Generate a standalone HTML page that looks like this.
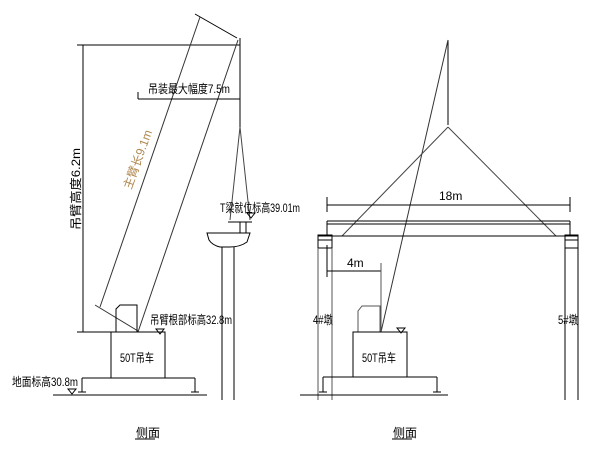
<!DOCTYPE html>
<html><head><meta charset="utf-8"><style>
html,body{margin:0;padding:0;background:#fff;}
svg{display:block;}
text{font-family:"Liberation Sans","Noto Sans CJK SC",sans-serif;font-size:12px;fill:#000;}
</style></head><body>
<svg width="600" height="450" viewBox="0 0 600 450" xmlns="http://www.w3.org/2000/svg">
<g stroke="#000" stroke-width="1" fill="none">
<line x1="77" y1="45" x2="240" y2="45"/>
<line x1="83" y1="45" x2="83" y2="332"/>
<line x1="195" y1="14" x2="237" y2="38"/>
<line x1="240" y1="38" x2="240" y2="127"/>
<line x1="200" y1="17" x2="100" y2="307" stroke="#333"/>
<line x1="238" y1="40" x2="138" y2="332" stroke="#333"/>
<line x1="95" y1="305" x2="138" y2="331" stroke="#333"/>
<line x1="138" y1="92" x2="138" y2="99"/>
<line x1="138" y1="99" x2="240" y2="99"/>
<line x1="240" y1="127" x2="230" y2="220" stroke="#444"/>
<line x1="240" y1="127" x2="250" y2="220" stroke="#444"/>
<line x1="228" y1="222" x2="252" y2="222"/>
<line x1="240" y1="222" x2="240" y2="233"/>
<line x1="246" y1="222" x2="246" y2="233"/>
<path d="M207 233 L250 233 L247 242 Q240 247 230 247 L220 247 Q212 245 209 240 Z"/>
<line x1="222" y1="247" x2="222" y2="400"/>
<line x1="234" y1="247" x2="234" y2="400"/>
<polygon points="247,213 255,213 251,218"/>
<line x1="77" y1="332" x2="165" y2="332"/>
<path d="M116 332 L116 309 L120 305 L137 305 L137 332"/>
<rect x="111" y="332" width="54" height="46"/>
<line x1="82" y1="378" x2="195" y2="378"/>
<line x1="82" y1="378" x2="82" y2="392"/>
<line x1="195" y1="378" x2="195" y2="392"/>
<line x1="78" y1="392" x2="86" y2="392"/>
<line x1="191" y1="392" x2="199" y2="392"/>
<line x1="53" y1="395" x2="207" y2="395"/>
<polygon points="156,329 164,329 160,334"/>
<polygon points="68,389 76,389 72,394"/>
<line x1="135" y1="439" x2="155" y2="439"/>
<line x1="448" y1="40" x2="448" y2="125"/>
<line x1="448" y1="40" x2="381" y2="332" stroke="#333"/>
<line x1="448" y1="127" x2="342" y2="236" stroke="#444"/>
<line x1="448" y1="127" x2="556" y2="236" stroke="#444"/>
<line x1="327" y1="197" x2="327" y2="212"/>
<line x1="570" y1="197" x2="570" y2="212"/>
<line x1="327" y1="205" x2="570" y2="205"/>
<line x1="327" y1="221" x2="570" y2="221"/>
<line x1="327" y1="224" x2="570" y2="224"/>
<line x1="318" y1="236" x2="578" y2="236"/>
<line x1="327" y1="221" x2="327" y2="236"/>
<line x1="570" y1="221" x2="570" y2="236"/>
<rect x="318" y="235" width="14" height="13"/>
<line x1="318" y1="240" x2="332" y2="240"/>
<rect x="565" y="235" width="13" height="13"/>
<line x1="565" y1="240" x2="578" y2="240"/>
<line x1="318" y1="248" x2="318" y2="400" stroke="#555"/>
<line x1="332" y1="248" x2="332" y2="400" stroke="#555"/>
<line x1="565" y1="248" x2="565" y2="400"/>
<line x1="578" y1="248" x2="578" y2="400"/>
<line x1="327" y1="245" x2="327" y2="277"/>
<line x1="327" y1="271" x2="381" y2="271"/>
<line x1="381" y1="263" x2="381" y2="332" stroke="#555"/>
<path d="M358 332 L358 311 L362 306 L380 306 L380 332" stroke="#555"/>
<rect x="353" y="332" width="54" height="45"/>
<line x1="323" y1="377" x2="437" y2="377"/>
<line x1="323" y1="377" x2="323" y2="392"/>
<line x1="437" y1="377" x2="437" y2="392"/>
<line x1="319" y1="392" x2="327" y2="392"/>
<line x1="433" y1="392" x2="441" y2="392"/>
<line x1="300" y1="395" x2="448" y2="395"/>
<polygon points="397,328 405,328 401,333"/>
<line x1="392" y1="439" x2="412" y2="439"/>
</g>
<text x="148" y="93" textLength="82" lengthAdjust="spacingAndGlyphs">吊装最大幅度7.5m</text>
<text x="220" y="212" textLength="80" lengthAdjust="spacingAndGlyphs">T梁就位标高39.01m</text>
<text x="150" y="324" textLength="82" lengthAdjust="spacingAndGlyphs">吊臂根部标高32.8m</text>
<text x="120" y="362" textLength="34" lengthAdjust="spacingAndGlyphs">50T吊车</text>
<text x="12" y="386" textLength="66" lengthAdjust="spacingAndGlyphs">地面标高30.8m</text>
<text x="136" y="437">侧面</text>
<text transform="translate(80,230) rotate(-90)" textLength="82" lengthAdjust="spacingAndGlyphs">吊臂高度6.2m</text>
<text transform="translate(131,190) rotate(-70)" style="fill:#b08850" textLength="62" lengthAdjust="spacingAndGlyphs">主臂长9.1m</text>
<text x="439" y="200">18m</text>
<text x="347" y="267">4m</text>
<text x="313" y="324" font-size="10" textLength="20" lengthAdjust="spacingAndGlyphs">4#墩</text>
<text x="558" y="324" font-size="10" textLength="20" lengthAdjust="spacingAndGlyphs">5#墩</text>
<text x="362" y="362" textLength="34" lengthAdjust="spacingAndGlyphs">50T吊车</text>
<text x="393" y="437">侧面</text>
</svg>
</body></html>
